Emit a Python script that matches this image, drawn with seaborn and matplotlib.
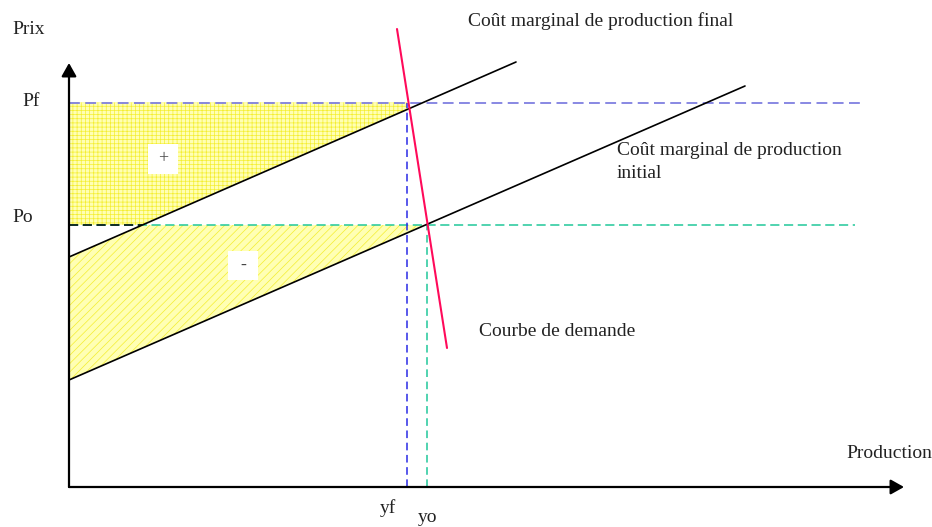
import matplotlib
matplotlib.use("Agg")
import matplotlib.pyplot as plt
from matplotlib.patches import Rectangle
import seaborn as sns
import numpy as np
import pandas as pd

cm_final_x = [0.0, 44.7]
cm_final_p = [23.0, 42.5]
cm_init_x = [0.0, 67.6]
cm_init_p = [10.7, 40.1]
demande_x = [32.8, 37.8]
demande_p = [45.8, 13.9]

Pf = 38.45
Po = 26.2
yf = 33.8
yo = 35.8
x_max = 83.5
p_max = 42.4
Pf_fin = 79.6
Po_fin = 78.6

sns.set_theme(style="white")
plt.rcParams['font.family'] = ['Liberation Serif', 'DejaVu Serif']
plt.rcParams['hatch.linewidth'] = 0.5

fig = plt.figure(figsize=(9.32, 5.27), dpi=100)
ax = fig.add_axes([0, 0, 1, 1])
ax.set_xlim(-6.9, 86.3)
ax.set_ylim(-4.0, 48.7)

# zones colorées
xs = np.linspace(0, yf, 200)
haut = np.interp(xs, cm_final_x, cm_final_p)
ax.fill_between(xs, np.maximum(haut, Po), Pf, facecolor='#ffffb4',
                edgecolor='#f4ee30', hatch='++++', linewidth=0, zorder=1)
xs2 = np.linspace(0, yo, 200)
haut2 = np.minimum(np.interp(xs2, cm_final_x, cm_final_p), Po)
bas2 = np.interp(xs2, cm_init_x, cm_init_p)
ax.fill_between(xs2, bas2, haut2, facecolor='#ffffb4',
                edgecolor='#f4ee30', hatch='////', linewidth=0, zorder=1)

# pointillés
x_coupe = np.interp(Po, cm_final_p, cm_final_x)
ax.plot([0, Pf_fin], [Pf, Pf], color='#7f7fe0', lw=1.3, ls=(0, (6, 3)), zorder=2)
ax.plot([0, Po_fin], [Po, Po], color='#20c89a', lw=1.1, ls=(0, (6, 3)), zorder=2)
ax.plot([0, x_coupe], [Po, Po], color='black', lw=1.1, ls=(0, (6, 3)), zorder=2)
ax.plot([yf, yf], [0, Pf], color='#2a2ae6', lw=1.1, ls=(0, (5, 3)), zorder=2)
ax.plot([yo, yo], [0, Po], color='#20c89a', lw=1.1, ls=(0, (5, 3)), zorder=2)

# courbes
df_final = pd.DataFrame({'x': cm_final_x, 'p': cm_final_p})
df_init = pd.DataFrame({'x': cm_init_x, 'p': cm_init_p})
df_dem = pd.DataFrame({'x': demande_x, 'p': demande_p})
sns.lineplot(data=df_final, x='x', y='p', color='black', lw=1.2, ax=ax, zorder=3)
sns.lineplot(data=df_init, x='x', y='p', color='black', lw=1.2, ax=ax, zorder=3)
sns.lineplot(data=df_dem, x='x', y='p', color='#ff0a5a', lw=1.5, ax=ax,
             zorder=4, sort=False)
ax.axis('off')

# axes avec flèches
fleche = dict(arrowstyle='-|>,head_length=0.8,head_width=0.45', color='black',
              lw=1.6, shrinkA=0, shrinkB=0, mutation_scale=10)
ax.annotate('', xy=(0, p_max), xytext=(0, 0), arrowprops=fleche, zorder=5)
ax.annotate('', xy=(x_max, 0), xytext=(0, 0), arrowprops=fleche, zorder=5)

# textes
fs = 14
tc = '#222222'
ax.text(-5.7, 45.8, 'Prix', fontsize=fs, color=tc, ha='left', va='center')
ax.text(-4.7, 38.5, 'Pf', fontsize=fs, color=tc, ha='left', va='center')
ax.text(-5.7, 27.0, 'Po', fontsize=fs, color=tc, ha='left', va='center')
ax.text(39.9, 46.6, 'Coût marginal de production final', fontsize=fs, color=tc,
        ha='left', va='center')
ax.text(54.8, 32.5, 'Coût marginal de production\ninitial', fontsize=fs, color=tc,
        ha='left', va='center', linespacing=1.4)
ax.text(41.0, 15.6, 'Courbe de demande', fontsize=fs, color=tc, ha='left', va='center')
ax.text(77.7, 3.4, 'Production', fontsize=fs, color=tc, ha='left', va='center')
ax.text(31.1, -2.6, 'yf', fontsize=fs, color=tc, ha='left', va='baseline')
ax.text(34.9, -3.45, 'yo', fontsize=fs, color=tc, ha='left', va='baseline')

# petites cases blanches avec les signes
for cx, cy, signe in [(9.4, 32.8, '+'), (17.4, 22.2, '-')]:
    ax.add_patch(Rectangle((cx - 1.5, cy - 1.45), 3.0, 2.9, fc='white',
                           ec='none', zorder=6))
    ax.text(cx, cy, signe, fontsize=13, color='#444444', ha='center',
            va='center', zorder=7)

fig.savefig('out.png', dpi=100)
